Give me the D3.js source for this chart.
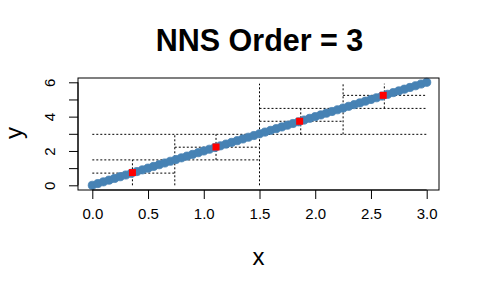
<!DOCTYPE html>
<html>
<head>
<meta charset="utf-8">
<script src="https://cdn.jsdelivr.net/npm/d3@7"></script>
<style>
  body { margin: 0; background: #fff; }
  text { font-family: "Liberation Sans", Arial, sans-serif; }
</style>
</head>
<body>
<svg id="chart" width="480" height="288"></svg>
<script>
// data points (y = 2x sample)
let xVals = [0.00,0.05,0.10,0.15,0.20,0.25,0.30,0.35,0.40,0.45,0.50,0.55,0.60,0.65,0.70,0.75,0.80,0.85,0.90,0.95,
             1.00,1.05,1.10,1.15,1.20,1.25,1.30,1.35,1.40,1.45,1.50,1.55,1.60,1.65,1.70,1.75,1.80,1.85,1.90,1.95,
             2.00,2.05,2.10,2.15,2.20,2.25,2.30,2.35,2.40,2.45,2.50,2.55,2.60,2.65,2.70,2.75,2.80,2.85,2.90,2.95,3.00];
let yVals = [0.0,0.1,0.2,0.3,0.4,0.5,0.6,0.7,0.8,0.9,1.0,1.1,1.2,1.3,1.4,1.5,1.6,1.7,1.8,1.9,
             2.0,2.1,2.2,2.3,2.4,2.5,2.6,2.7,2.8,2.9,3.0,3.1,3.2,3.3,3.4,3.5,3.6,3.7,3.8,3.9,
             4.0,4.1,4.2,4.3,4.4,4.5,4.6,4.7,4.8,4.9,5.0,5.1,5.2,5.3,5.4,5.5,5.6,5.7,5.8,5.9,6.0];

// red centroids
let centX = [0.36, 1.11, 1.86, 2.61];
let centY = [0.74, 2.23, 3.73, 5.24];

// dotted partition lines [x1, y1, x2, y2]
let vLines = [
  [1.50, 0.00, 1.50, 5.92],
  [0.74, 0.00, 0.74, 2.97],
  [0.36, 0.00, 0.36, 1.48],
  [1.11, 1.48, 1.11, 2.97],
  [2.25, 2.97, 2.25, 5.92],
  [1.87, 2.97, 1.87, 4.48],
  [2.62, 4.48, 2.62, 5.92]
];
let hLines = [
  [0.00, 2.97, 3.00, 2.97],
  [0.00, 1.48, 1.50, 1.48],
  [0.00, 0.71, 0.74, 0.71],
  [0.74, 2.22, 1.50, 2.22],
  [1.50, 4.48, 3.00, 4.48],
  [1.50, 3.73, 2.25, 3.73],
  [2.25, 5.24, 3.00, 5.24]
];

let xTicks = [0, 0.5, 1, 1.5, 2, 2.5, 3];
let yTicks = [0, 1, 2, 3, 4, 5, 6];
let yLabels = [0, 2, 4, 6];

let svg = d3.select('#chart');

let box = { left: 78, top: 78, right: 439, bottom: 190 };

let xScale = d3.scaleLinear().domain([0, 3]).range([92.3, 426.7]);
let yScale = d3.scaleLinear().domain([0, 6]).range([185.3, 82.3]);

// title
svg.append('text')
   .attr('x', 259.5)
   .attr('y', 51)
   .attr('text-anchor', 'middle')
   .attr('font-size', 30.5)
   .attr('font-weight', 'bold')
   .text('NNS Order = 3');

// partition lines
let lines = vLines.concat(hLines);
svg.selectAll('line.part')
   .data(lines)
   .enter()
   .append('line')
   .attr('class', 'part')
   .attr('x1', (d) => xScale(d[0]))
   .attr('y1', (d) => yScale(d[1]))
   .attr('x2', (d) => xScale(d[2]))
   .attr('y2', (d) => yScale(d[3]))
   .attr('stroke', '#000')
   .attr('stroke-width', 1)
   .attr('stroke-dasharray', '2,2');

// points
let points = xVals.map((x, i) => [x, yVals[i]]);
svg.selectAll('circle.pt')
   .data(points)
   .enter()
   .append('circle')
   .attr('class', 'pt')
   .attr('cx', (d) => xScale(d[0]))
   .attr('cy', (d) => yScale(d[1]))
   .attr('r', 4.1)
   .attr('fill', 'steelblue')
   .attr('stroke', 'steelblue')
   .attr('stroke-width', 0.8);

// centroids
let cents = centX.map((x, i) => [x, centY[i]]);
svg.selectAll('rect.cent')
   .data(cents)
   .enter()
   .append('rect')
   .attr('class', 'cent')
   .attr('x', (d) => xScale(d[0]) - 3.5)
   .attr('y', (d) => yScale(d[1]) - 3.5)
   .attr('width', 7)
   .attr('height', 7)
   .attr('fill', 'red');

// plot box
svg.append('rect')
   .attr('x', box.left)
   .attr('y', box.top)
   .attr('width', box.right - box.left)
   .attr('height', box.bottom - box.top)
   .attr('fill', 'none')
   .attr('stroke', '#000')
   .attr('stroke-width', 1);

// x axis
let xAxis = svg.append('g')
   .attr('transform', 'translate(0,' + box.bottom + ')')
   .call(d3.axisBottom(xScale).tickValues(xTicks).tickFormat(d3.format('.1f')).tickSize(9).tickPadding(9));
xAxis.select('.domain').attr('d', 'M' + xScale(0) + ',0H' + xScale(3));
xAxis.selectAll('text').attr('font-size', 15).attr('font-family', '"Liberation Sans", Arial, sans-serif').attr('fill', '#000');

// y axis
let yAxis = svg.append('g')
   .attr('transform', 'translate(' + box.left + ',0)')
   .call(d3.axisLeft(yScale).tickValues(yTicks).tickFormat((d) => yLabels.includes(d) ? d : '').tickSize(9).tickPadding(0));
yAxis.select('.domain').attr('d', 'M0,' + yScale(0) + 'V' + yScale(6));
yAxis.selectAll('text')
   .attr('font-size', 15)
   .attr('font-family', '"Liberation Sans", Arial, sans-serif')
   .attr('fill', '#000')
   .attr('text-anchor', 'middle')
   .attr('x', 0)
   .attr('y', 0)
   .attr('dy', 0)
   .attr('transform', 'translate(-23,0) rotate(-90)');

// axis labels
svg.append('text')
   .attr('x', 258.5)
   .attr('y', 265)
   .attr('text-anchor', 'middle')
   .attr('font-size', 24)
   .text('x');

svg.append('text')
   .attr('transform', 'translate(22,133) rotate(-90)')
   .attr('text-anchor', 'middle')
   .attr('font-size', 24)
   .text('y');
</script>
</body>
</html>
